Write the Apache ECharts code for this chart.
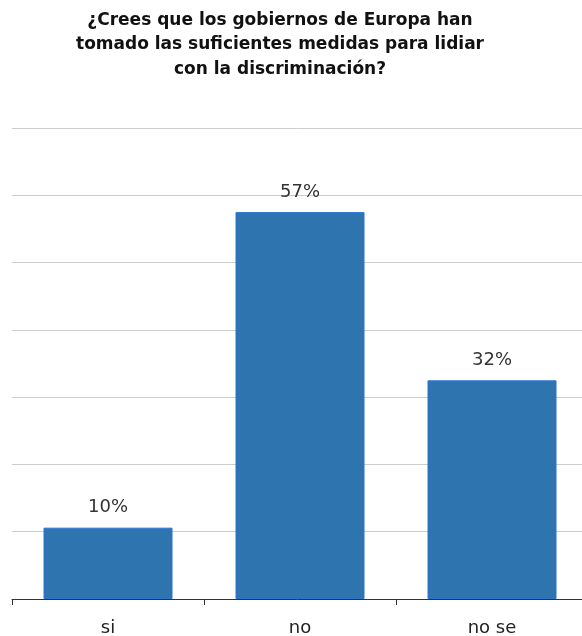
<!DOCTYPE html>
<html>
<head>
<meta charset="utf-8">
<script src="https://cdn.jsdelivr.net/npm/echarts@6/dist/echarts.min.js"></script>
<style>
html,body{margin:0;padding:0;background:#fff;}
#chart{width:582px;height:636px;}
</style>
</head>
<body>
<div id="chart"></div>
<script>
const titleText = "¿Crees que los gobiernos de Europa han\ntomado las suficientes medidas para lidiar\ncon la discriminación?";
const categories = ["si", "no", "no se"];
const values = [10.6, 57.5, 32.5];
const valueLabels = ["10%", "57%", "32%"];

const chart = echarts.init(document.getElementById('chart'), null, {renderer: 'canvas'});
chart.setOption({
  animation: false,
  backgroundColor: '#ffffff',
  title: {
    text: titleText,
    left: 275,
    top: 3,
    textAlign: 'center',
    textStyle: {
      fontFamily: 'DejaVu Sans',
      fontWeight: 'bold',
      fontSize: 17,
      lineHeight: 24.5,
      color: '#111'
    }
  },
  grid: {left: 12, top: 128, width: 576, height: 471, containLabel: false, outerBoundsMode: 'none'},
  xAxis: {
    type: 'category',
    data: categories,
    axisLine: {lineStyle: {color: '#333', width: 1}},
    axisTick: {show: true, length: 6, lineStyle: {color: '#333'}},
    axisLabel: {color: '#222', fontFamily: 'DejaVu Sans', fontSize: 18, margin: 20}
  },
  yAxis: {
    type: 'value',
    min: 0,
    max: 70,
    interval: 10,
    axisLine: {show: false},
    axisTick: {show: false},
    axisLabel: {show: false},
    splitLine: {lineStyle: {color: '#cccccc', width: 1}}
  },
  series: [{
    type: 'bar',
    data: values,
    barWidth: 129,
    itemStyle: {color: '#2E75B0', borderColor: '#2a72d6', borderWidth: 1},
    label: {
      show: true,
      position: 'top',
      distance: 11,
      color: '#333',
      fontFamily: 'DejaVu Sans',
      fontSize: 18,
      formatter: p => valueLabels[p.dataIndex]
    }
  }]
});
</script>
</body>
</html>
